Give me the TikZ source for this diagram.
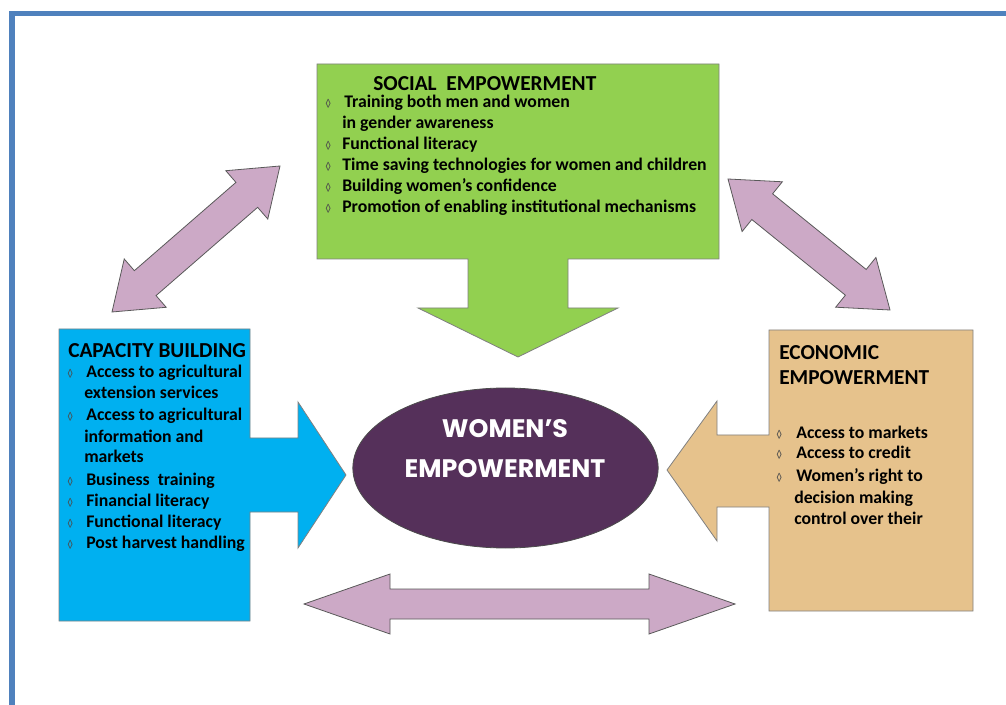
\documentclass[tikz,border=0pt]{standalone}
\usepackage{fontspec}
\setmainfont{Carlito}
\newfontfamily\corefont{Poppins}
\usetikzlibrary{calc,shapes.geometric}

\definecolor{framebl}{HTML}{4F81BD}
\definecolor{socgreen}{HTML}{92D050}
\definecolor{capblue}{HTML}{00B0F0}
\definecolor{ecotan}{HTML}{E6C28C}
\definecolor{linkpink}{HTML}{CCA9C6}
\definecolor{coreplum}{HTML}{55305A}

\tikzset{
  shapebox/.style={draw=black!50, line width=0.6pt},
  linkarrow/.style={fill=linkpink, draw=black!65, line width=0.6pt},
  item/.style={anchor=base west, inner sep=0pt, text height=9.5pt, font=\bfseries\fontsize{13.3}{15}\selectfont},
  heading/.style={anchor=base west, inner sep=0pt, text depth=0pt, font=\bfseries\fontsize{16}{19}\selectfont},
  bul/.style={anchor=base west, inner sep=0pt, text=black!70, font=\fontsize{8.5}{9}\selectfont},
  coretext/.style={anchor=base, inner sep=0pt, text=white, font=\corefont\bfseries\fontsize{19}{23}\selectfont},
}

% double headed block arrow: tip, tip, head length, head half width, shaft half width
\newcommand{\dblarrow}[5]{%
  \coordinate (ha) at ($(#1)!#3!(#2)$);
  \coordinate (hb) at ($(#2)!#3!(#1)$);
  \filldraw[linkarrow] (#1)
    -- ($(ha)!#4!90:(#2)$) -- ($(ha)!#5!90:(#2)$)
    -- ($(hb)!#5!-90:(#1)$) -- ($(hb)!#4!-90:(#1)$)
    -- (#2)
    -- ($(hb)!#4!90:(#1)$) -- ($(hb)!#5!90:(#1)$)
    -- ($(ha)!#5!-90:(#2)$) -- ($(ha)!#4!-90:(#2)$)
    -- cycle;
}

\begin{document}
\begin{tikzpicture}[x=0.75pt,y=-0.75pt]
    \useasboundingbox (0,0) rectangle (1006,705);

    % frame
    \draw[framebl, line width=4pt] (12,705) -- (12,13.5) -- (1006,13.5);

    % social empowerment box with arrow down
    \filldraw[shapebox, fill=socgreen] (317,64) -- (719,64) -- (719,259)
        -- (568,259) -- (568,308) -- (618,308) -- (518,357) -- (418,308)
        -- (468,308) -- (468,259) -- (317,259) -- cycle;

    % capacity building box with arrow right
    \filldraw[shapebox, fill=capblue] (59,329) -- (250,329) -- (250,438)
        -- (298,438) -- (298,402) -- (346,475) -- (298,548) -- (298,512)
        -- (250,512) -- (250,621) -- (59,621) -- cycle;

    % economic empowerment box with arrow left
    \filldraw[shapebox, fill=ecotan] (769,330) -- (973,330) -- (973,611)
        -- (769,611) -- (769,507) -- (717,507) -- (717,541) -- (667,470)
        -- (717,401) -- (717,435) -- (769,435) -- cycle;

    % links
    \coordinate (ulA) at (280,166);
    \coordinate (ulB) at (112,312);
    \coordinate (urA) at (728,179);
    \coordinate (urB) at (890,310);
    \coordinate (btA) at (304,604);
    \coordinate (btB) at (735,604);
    \dblarrow{ulA}{ulB}{33pt}{24pt}{12.4pt}
    \dblarrow{urA}{urB}{33pt}{24pt}{12.4pt}
    \dblarrow{btA}{btB}{64.5pt}{22.5pt}{11.25pt}

    % centre
    \node[ellipse, fill=coreplum, draw=black!70, line width=0.6pt,
          minimum width=229pt, minimum height=120pt] (core) at (505.5,468) {};
    \node[coretext] (coreA) at (505,438) {WOMEN’S};
    \node[coretext] (coreB) at (505,478) {EMPOWERMENT};

    % social empowerment text
    \node[heading] (socH) at (373,91) {SOCIAL~~EMPOWERMENT};
    \foreach \x/\y/\t in {344/108/Training both men and women,
                          342/129/in gender awareness,
                          342/150/Functional literacy,
                          342/171/Time saving technologies for women and children,
                          342/192/Building women’s confidence,
                          342/213/Promotion of enabling institutional mechanisms}
        \node[item] (soc\y) at (\x,\y) {\t};
    \foreach \y in {108,150,171,192,213}
        \node[bul] (socb\y) at (325,\y) {◊};

    % capacity building text
    \node[heading] (capH) at (68,358) {CAPACITY BUILDING};
    \foreach \x/\y/\t in {86/378/Access to agricultural,
                          84/399/extension services,
                          86/421/Access to agricultural,
                          84/442/information and,
                          84/463/markets,
                          86/485/Business~~training,
                          86/506/Financial literacy,
                          86/527/Functional literacy,
                          86/548/Post harvest handling}
        \node[item] (cap\y) at (\x,\y) {\t};
    \foreach \y in {378,421,485,506,527,548}
        \node[bul] (capb\y) at (67,\y) {◊};

    % economic empowerment text
    \node[heading] (ecoH) at (779,360) {ECONOMIC};
    \node[heading] (ecoH2) at (779,385) {EMPOWERMENT};
    \foreach \x/\y/\t in {796/439/Access to markets,
                          796/459/Access to credit,
                          796/481/Women’s right to,
                          794/503/decision making,
                          794/524/control over their}
        \node[item] (eco\y) at (\x,\y) {\t};
    \foreach \y in {439,459,481}
        \node[bul] (ecob\y) at (776,\y) {◊};
\end{tikzpicture}
\end{document}
